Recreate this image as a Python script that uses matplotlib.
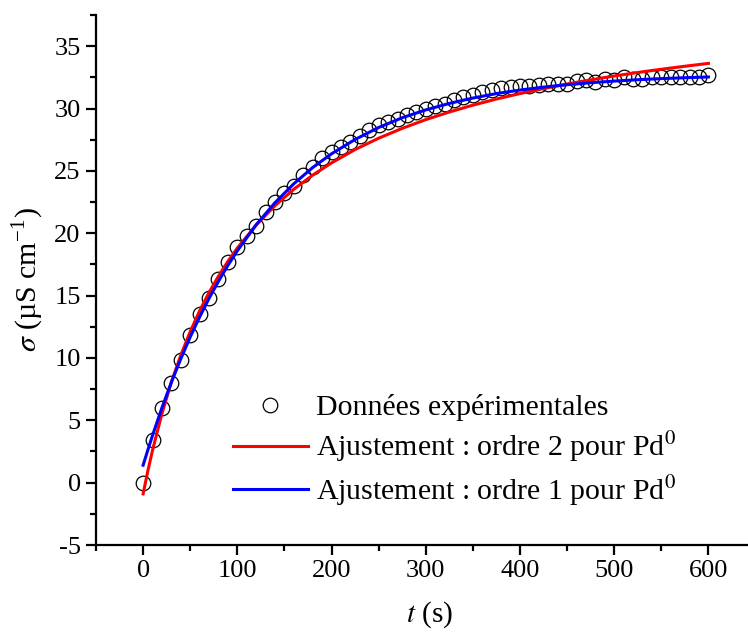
import matplotlib
matplotlib.use("Agg")
import matplotlib.pyplot as plt
from matplotlib.ticker import MultipleLocator

plt.rcParams['font.family'] = ['Liberation Serif', 'DejaVu Serif']
plt.rcParams['mathtext.fontset'] = 'stix'
plt.rcParams['axes.unicode_minus'] = False

# Experimental data (time in s, conductivity in uS/cm)
t_data = list(range(0, 610, 10))
sigma_data = [0.0, 3.4, 6.0, 8.0, 9.85, 11.8, 13.5, 14.8, 16.3, 17.7,
              18.9, 19.8, 20.6, 21.7, 22.5, 23.2, 23.8, 24.7, 25.3, 26.0,
              26.5, 26.9, 27.3, 27.8, 28.25, 28.65, 28.9, 29.2, 29.5, 29.7,
              30.0, 30.2, 30.4, 30.65, 30.9, 31.1, 31.3, 31.5, 31.65, 31.7,
              31.8, 31.8, 31.9, 32.0, 32.0, 32.0, 32.2, 32.3, 32.1, 32.4,
              32.3, 32.5, 32.4, 32.4, 32.5, 32.5, 32.5, 32.5, 32.5, 32.5,
              32.65]

# Fit curves sampled
t_fit = [0, 5, 10, 20, 30, 40, 50, 60, 70, 80, 90, 100, 120, 140, 160, 180,
         200, 225, 250, 275, 300, 325, 350, 375, 400, 425, 450, 475, 500,
         525, 550, 575, 600]
fit_order2 = [-0.90, 0.93, 2.60, 5.54, 8.06, 10.22, 12.11, 13.78, 15.25,
              16.56, 17.75, 18.81, 20.66, 22.21, 23.53, 24.66, 25.64, 26.71,
              27.62, 28.41, 29.11, 29.72, 30.27, 30.76, 31.20, 31.60, 31.97,
              32.30, 32.61, 32.89, 33.15, 33.39, 33.62]
fit_order1 = [1.40, 2.61, 3.79, 6.01, 8.05, 9.93, 11.68, 13.29, 14.78,
              16.15, 17.42, 18.59, 20.68, 22.45, 23.97, 25.27, 26.37, 27.52,
              28.48, 29.26, 29.89, 30.41, 30.84, 31.20, 31.48, 31.72, 31.91,
              32.07, 32.20, 32.31, 32.40, 32.47, 32.53]

labels = ["Données expérimentales",
          "Ajustement : ordre 2 pour Pd$^0$",
          "Ajustement : ordre 1 pour Pd$^0$"]

fig = plt.figure(figsize=(7.48, 6.34), dpi=100)
ax = fig.add_axes([96/748, 89/634, 652/748, 530/634])

ax.plot(t_data, sigma_data, linestyle='none', marker='o', ms=10.5,
        mfc='none', mec='black', mew=0.9, label=labels[0], zorder=2)
ax.plot(t_fit, fit_order2, color='#ff0000', lw=2.2, label=labels[1], zorder=3)
ax.plot(t_fit, fit_order1, color='#0000ff', lw=2.2, label=labels[2], zorder=4)

ax.set_xlim(-50, 642)
ax.set_ylim(-5, 37.5)
ax.xaxis.set_major_locator(MultipleLocator(100))
ax.xaxis.set_minor_locator(MultipleLocator(50))
ax.yaxis.set_major_locator(MultipleLocator(5))
ax.yaxis.set_minor_locator(MultipleLocator(2.5))

for s in ['top', 'right']:
    ax.spines[s].set_visible(False)
for s in ['left', 'bottom']:
    ax.spines[s].set_linewidth(1.6)

ax.tick_params(which='major', direction='out', length=7, width=1.6,
               labelsize=19, pad=4)
ax.tick_params(which='minor', direction='out', length=4, width=1.6)

ax.set_xlabel("$t$ (s)", fontsize=21)
ax.set_ylabel("$\\sigma$ (µS cm$^{\\mathregular{-1}}$)", fontsize=21.5)
ax.xaxis.set_label_coords(0.512, -0.103)
ax.yaxis.set_label_coords(-0.078, 0.50)

leg = ax.legend(loc='upper left', bbox_to_anchor=((233-96)/652, (545-394)/530),
                frameon=False, fontsize=21.5, handlelength=2.5, handletextpad=0.27,
                labelspacing=0.3, borderpad=0, borderaxespad=0)

fig.savefig("out.png", dpi=100)
